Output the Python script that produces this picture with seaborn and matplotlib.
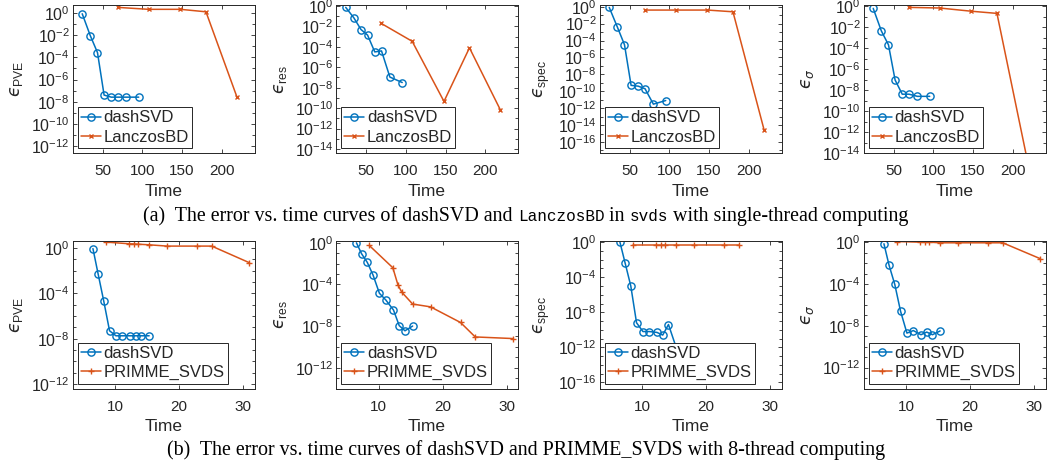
import numpy as np
import pandas as pd
import matplotlib
matplotlib.use("Agg")
import matplotlib.pyplot as plt
import seaborn as sns
from matplotlib.ticker import FixedLocator, LogLocator, NullFormatter

# ---------------- data ----------------
# (a) single-thread: dashSVD vs LanczosBD
t_dash_a = [24.5, 34.7, 43.7, 52, 61, 69.5, 80, 95.5]
t_lanc = [69, 108, 148, 180, 219]

pve_dash_a = [0.8, 8.5e-3, 2.6e-4, 4e-8, 2.6e-8, 2.6e-8, 2.6e-8, 2.6e-8]
pve_lanc = [3.0, 2.0, 2.0, 1.2, 2.6e-8]

res_dash_a = [0.74, 7e-2, 5e-3, 1.4e-3, 3.2e-5, 4e-5, 1.1e-7, 3.2e-8]
res_lanc = [2e-2, 3.5e-4, 4.5e-10, 8e-5, 6.3e-11]

spec_dash_a = [0.83, 4e-3, 3.2e-5, 5e-10, 4e-10, 2e-10, 3e-12, 8e-12]
spec_lanc = [0.4, 0.4, 0.4, 0.25, 3e-15]

sig_dash_a = [0.6, 4.3e-3, 2e-4, 9e-8, 4e-9, 4e-9, 2.5e-9, 2.5e-9]
sig_lanc = [0.75, 0.65, 0.32, 0.2, 1e-15]

# (b) 8-thread: dashSVD vs PRIMME_SVDS
t_dash_b = [6.5, 7.3, 8.2, 9.1, 10.1, 11.1, 12.3, 13.2, 14.1, 15.3]
t_prim = [8.5, 12.2, 13.0, 13.6, 15.3, 18.1, 22.8, 25.1, 31.0]
t_prim_spec = [8.5, 12.2, 13.0, 13.6, 15.3, 18.1, 22.8, 25.1]

pve_dash_b = [0.9, 5.6e-3, 2e-5, 5e-8, 1.8e-8, 1.8e-8, 1.8e-8, 1.8e-8, 1.8e-8, 1.8e-8]
pve_prim = [3.4, 2.4, 2.3, 2.2, 1.95, 1.5, 1.5, 1.5, 5.1e-2]

res_dash_b = [1.0, 9e-2, 1.3e-2, 8e-4, 1.4e-5, 3.2e-6, 3.5e-7, 1.1e-8, 3.5e-9, 1e-8]
res_prim = [0.56, 4e-3, 9e-5, 1.8e-5, 1.3e-6, 7e-7, 2.2e-8, 9e-10, 6.3e-10]

spec_dash_b = [1.0, 4.5e-3, 1e-5, 6.3e-10, 6.3e-11, 6.3e-11, 5e-11, 2.5e-11, 4e-10, 1e-12]
spec_prim = [0.42, 0.42, 0.42, 0.42, 0.42, 0.42, 0.42, 0.42]

sig_dash_b = [0.7, 6.3e-3, 9e-5, 2.5e-7, 2e-9, 3.5e-9, 1.4e-9, 2.5e-9, 1.4e-9, 3.2e-9]
sig_prim = [1.15, 1.0, 1.0, 1.0, 0.87, 0.87, 0.87, 0.87, 2.6e-2]

xticks_a = [50, 100, 150, 200]
xticks_b = [10, 20, 30]

caption_a = [("(a)  The error vs. time curves of dashSVD and ", "serif"),
             ("LanczosBD", "mono"), (" in ", "serif"), ("svds", "mono"),
             (" with single-thread computing", "serif")]
caption_b = [("(b)  The error vs. time curves of dashSVD and PRIMME_SVDS with 8-thread computing", "serif")]

# ---------------- style ----------------
sns.set_theme(style="ticks")
plt.rcParams["font.family"] = ["Liberation Sans", "DejaVu Sans"]
plt.rcParams["mathtext.fontset"] = "dejavusans"
plt.rcParams["axes.unicode_minus"] = False

BLUE = "#0072BD"
ORANGE = "#D95319"
AXC = "#262626"

W, H = 1052, 467
fig = plt.figure(figsize=(W / 100, H / 100), dpi=100)


def add_ax(left, top, width=182, height=148):
    return fig.add_axes([left / W, (H - top - height) / H, width / W, height / H])


def panel(ax, t1, y1, t2, y2, name2, marker2, ms2, xlim, xticks, ylim, yticks, ylabel):
    ax.set_yscale("log")
    sns.lineplot(x=t1, y=y1, ax=ax, color=BLUE, marker="o", markersize=5.2,
                 markerfacecolor="none", markeredgecolor=BLUE, markeredgewidth=1.0,
                 linewidth=1.1, label="dashSVD", sort=False, estimator=None)
    sns.lineplot(x=t2, y=y2, ax=ax, color=ORANGE, marker=marker2, markersize=ms2,
                 markerfacecolor=ORANGE, markeredgecolor=ORANGE, markeredgewidth=1.0,
                 linewidth=1.1, label=name2, sort=False, estimator=None)
    ax.set_xlim(*xlim)
    ax.set_ylim(*ylim)
    ax.xaxis.set_major_locator(FixedLocator(xticks))
    ax.yaxis.set_major_locator(FixedLocator([10.0 ** e for e in yticks]))
    ax.yaxis.set_minor_locator(LogLocator(base=10, subs=(1.0,), numticks=60))
    ax.yaxis.set_minor_formatter(NullFormatter())
    ax.tick_params(which="both", direction="in", top=True, right=True,
                   colors=AXC, labelcolor=AXC, width=0.6)
    ax.tick_params(which="major", length=3.0)
    ax.tick_params(which="minor", length=2.0)
    ax.tick_params(axis="x", labelsize=11, pad=8)
    ax.tick_params(axis="y", labelsize=11.5, pad=2)
    for s in ax.spines.values():
        s.set_visible(True)
        s.set_color(AXC)
        s.set_linewidth(0.7)
    ax.set_xlabel("Time", fontsize=12.5, color=AXC, labelpad=4)
    ax.set_ylabel(ylabel, fontsize=12.5, color=AXC)
    ax.yaxis.set_label_coords(-0.26, 0.5)
    leg = ax.legend(loc="lower left", fontsize=12, frameon=True, fancybox=False,
                    framealpha=1, edgecolor=AXC, handlelength=1.2, handletextpad=0.15,
                    borderpad=0.2, labelspacing=0.25, borderaxespad=0.3)
    leg.get_frame().set_linewidth(0.7)
    for txt in leg.get_texts():
        txt.set_color(AXC)
    ax.set_facecolor("white")


lefts = [72.5, 336, 599.5, 863.5]
top_a, top_b = 5, 240.5

xlim_a = (12.3, 241)
xlim_b = (3.3, 31.8)

axs = [add_ax(l, top_a) for l in lefts] + [add_ax(l, top_b) for l in lefts]

panel(axs[0], t_dash_a, pve_dash_a, t_lanc, pve_lanc, "LanczosBD", "x", 3.5,
      xlim_a, xticks_a, (10 ** -12.6, 10 ** 0.69), range(0, -13, -2), r"$ϵ_{\mathregular{PVE}}$")
panel(axs[1], t_dash_a, res_dash_a, t_lanc, res_lanc, "LanczosBD", "x", 3.5,
      xlim_a, xticks_a, (10 ** -14.4, 10 ** 0.1), range(0, -15, -2), r"$ϵ_{\mathregular{res}}$")
panel(axs[2], t_dash_a, spec_dash_a, t_lanc, spec_lanc, "LanczosBD", "x", 3.5,
      xlim_a, xticks_a, (10 ** -17.3, 10 ** 0.2), range(0, -17, -2), r"$ϵ_{\mathregular{spec}}$")
panel(axs[3], t_dash_a, sig_dash_a, t_lanc, sig_lanc, "LanczosBD", "x", 3.5,
      xlim_a, xticks_a, (1e-14, 10 ** 0.1), range(0, -15, -2), r"$ϵ_{σ}$")

panel(axs[4], t_dash_b, pve_dash_b, t_prim, pve_prim, "PRIMME_SVDS", "+", 5,
      xlim_b, xticks_b, (10 ** -12.4, 10 ** 0.67), [0, -4, -8, -12], r"$ϵ_{\mathregular{PVE}}$")
panel(axs[5], t_dash_b, res_dash_b, t_prim, res_prim, "PRIMME_SVDS", "+", 5,
      xlim_b, xticks_b, (1e-14, 10 ** 0.22), [0, -4, -8, -12], r"$ϵ_{\mathregular{res}}$")
panel(axs[6], t_dash_b, spec_dash_b, t_prim_spec, spec_prim, "PRIMME_SVDS", "+", 5,
      xlim_b, xticks_b, (10 ** -16.7, 10 ** 0.19), [0, -4, -8, -12, -16], r"$ϵ_{\mathregular{spec}}$")
panel(axs[7], t_dash_b, sig_dash_b, t_prim, sig_prim, "PRIMME_SVDS", "+", 5,
      xlim_b, xticks_b, (1e-14, 10 ** 0.16), [0, -4, -8, -12], r"$ϵ_{σ}$")

# ---------------- captions (mixed fonts) ----------------
FONTS = {"serif": "Liberation Serif", "mono": "Liberation Mono"}
SIZES = {"serif": 14.4, "mono": 11.5}
renderer = fig.canvas.get_renderer()


def caption(segments, cx, cy):
    texts = []
    for s, f in segments:
        t = fig.text(0, (H - cy) / H, s, family=FONTS[f], fontsize=SIZES[f], color="black",
                     va="baseline", ha="left")
        texts.append(t)
    widths = [t.get_window_extent(renderer).width for t in texts]
    total = sum(widths)
    x = cx - total / 2
    for t, w in zip(texts, widths):
        t.set_x(x / W)
        x += w


caption(caption_a, 526, 221)
caption(caption_b, 526, 455)

fig.savefig("out.png", dpi=100, facecolor="white")
